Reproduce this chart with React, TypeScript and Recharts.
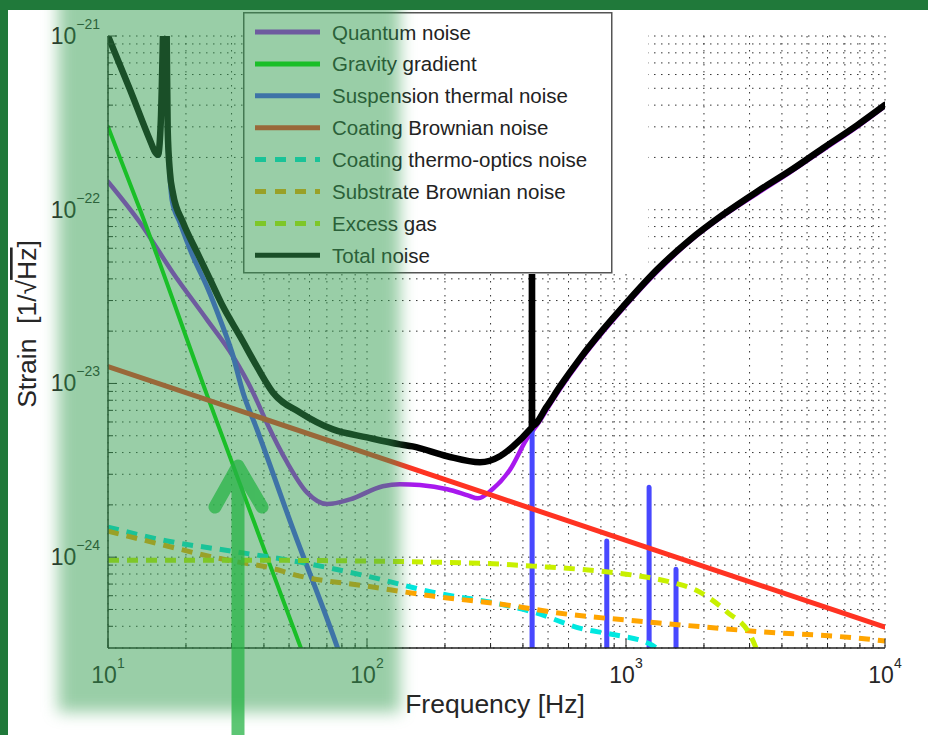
import React from 'react'
import { LineChart, Line, XAxis, YAxis, CartesianGrid, Legend, Label } from 'recharts'

type Pt = { f: number; s: number }
const toPts = (rows: [number, number][]): Pt[] => rows.map(([f, s]) => ({ f, s }))

// values: [frequency Hz, strain 1/rtHz]
const quantumNoise = toPts([
  [10, 1.45e-22], [13.3, 8.42e-23], [17.8, 4.34e-23], [24.1, 2.33e-23], [30.4, 1.43e-23],
  [36.3, 8.88e-24], [41.1, 5.9e-24], [49.1, 3.52e-24], [58.6, 2.36e-24], [70.2, 2.02e-24],
  [86, 2.15e-24], [115, 2.56e-24], [134, 2.63e-24], [160, 2.6e-24], [204, 2.46e-24],
  [245, 2.27e-24], [268, 2.18e-24], [305, 2.46e-24], [357, 3.2e-24], [413, 4.77e-24],
  [465, 6.1e-24], [495, 7.1e-24], [556, 9.3e-24], [664, 1.35e-23], [815, 1.98e-23],
  [974, 2.7e-23], [1318, 4.4e-23], [1767, 6.6e-23], [2368, 9.2e-23], [3205, 1.24e-22],
  [4297, 1.64e-22], [5763, 2.21e-22], [7797, 3.0e-22], [10000, 3.95e-22],
])

const gravityGradient = toPts([
  [10, 3.0e-22], [13.3, 1.0e-22], [24.1, 8.6e-24], [55.1, 3.1e-25], [60, 2.2e-25],
])

const suspensionThermal = toPts([
  [10, 1e-21], [12.2, 4.86e-22], [14.5, 2.53e-22], [15.2, 2.13e-22], [15.6, 2.05e-22],
  [16.0, 3.2e-22], [16.3, 1e-21], [16.55, 3e-21], [16.85, 1e-21], [17.0, 2.8e-22],
  [17.35, 1.55e-22], [17.66, 1.14e-22], [18.96, 8.42e-23], [21.3, 5.37e-23], [24.1, 3.61e-23],
  [27.1, 2.33e-23], [30.1, 1.51e-23], [33.2, 8.88e-24], [37.6, 5.44e-24], [51.8, 1.45e-24],
  [76.5, 3.08e-25], [90, 1.5e-25],
  [433.6, 1e-26], [434, 5.44e-24], [434.4, 1e-26],
  [842, 1e-26], [843, 1.24e-24], [844, 1e-26],
  [1227, 1e-26], [1228, 2.53e-24], [1229, 1e-26],
  [1559, 1e-26], [1560, 8.53e-25], [1561, 1e-26], [10000, 1e-26],
])

const coatingBrownian = toPts([
  [10, 1.25e-23], [100, 3.96e-24], [1000, 1.25e-24], [10000, 3.96e-25],
])

const coatingThermoOptic = toPts([
  [10, 1.49e-24], [16.9, 1.24e-24], [30.4, 1.08e-24], [55.1, 9.36e-25], [100, 7.78e-25],
  [179, 6.29e-25], [326, 5.37e-25], [438, 4.83e-25], [683, 3.86e-25], [869, 3.61e-25],
  [1237, 3.16e-25], [1350, 2.9e-25],
])

const substrateBrownian = toPts([
  [10, 1.41e-24], [16.9, 1.16e-24], [22.7, 1.04e-24], [30.4, 9.49e-25], [41.1, 8.77e-25],
  [55.1, 7.78e-25], [100, 6.81e-25], [179, 5.97e-25], [326, 5.37e-25], [592, 4.7e-25],
  [1237, 4.23e-25], [3030, 3.76e-25], [8500, 3.38e-25], [10000, 3.29e-25],
])

const excessGas = toPts([
  [10, 9.61e-25], [30.4, 9.61e-25], [100, 9.49e-25], [179, 9.36e-25], [326, 9.12e-25],
  [438, 8.88e-25], [795, 8.31e-25], [1068, 7.88e-25], [1435, 7.28e-25], [1928, 6.29e-25],
  [2458, 4.83e-25], [3030, 3.52e-25], [3300, 2.6e-25],
])

const totalNoise = toPts([
  [10, 1e-21], [12.2, 4.86e-22], [14.5, 2.53e-22], [15.2, 2.15e-22], [15.6, 2.07e-22],
  [16.0, 3.3e-22], [16.3, 1e-21], [16.55, 3e-21], [16.85, 1e-21], [17.0, 2.9e-22],
  [17.35, 1.63e-22], [17.8, 1.25e-22], [19.5, 8.42e-23], [22.1, 5.66e-23], [24.8, 3.96e-23],
  [27.8, 2.77e-23], [32.4, 1.86e-23], [37.6, 1.25e-23], [43.3, 8.88e-24], [55.1, 6.81e-24],
  [73.9, 5.44e-24], [100, 4.89e-24], [134, 4.46e-24], [150, 4.34e-24], [204, 3.81e-24],
  [273, 3.52e-24], [326, 3.81e-24], [366, 4.34e-24], [426, 5.44e-24], [433, 5.6e-24],
  [433.5, 3e-21], [434, 5.7e-24], [495, 7.38e-24], [556, 9.61e-24], [664, 1.39e-23],
  [815, 2.04e-23], [974, 2.77e-23], [1318, 4.52e-23], [1767, 6.72e-23], [2368, 9.36e-23],
  [3205, 1.27e-22], [4297, 1.675e-22], [5763, 2.26e-22], [7797, 3.06e-22], [10000, 4.01e-22],
])

const seriesNames = [
  'Quantum noise', 'Gravity gradient', 'Suspension thermal noise', 'Coating Brownian noise',
  'Coating thermo-optics noise', 'Substrate Brownian noise', 'Excess gas', 'Total noise',
]
const seriesData = [
  quantumNoise, gravityGradient, suspensionThermal, coatingBrownian,
  coatingThermoOptic, substrateBrownian, excessGas, totalNoise,
]
const seriesColors = ['#a818ee', '#00e000', '#4848ff', '#ff3322', '#00e8e0', '#ffa500', '#c8f000', '#000000']
const seriesDashed = [false, false, false, false, true, true, true, false]
const seriesWidths = [4.5, 4, 5, 5, 5, 5, 5, 6.5]

const xMajor = [10, 100, 1000, 10000]
const xExp = ['1', '2', '3', '4']
const xMinor = [20, 30, 40, 50, 60, 70, 80, 90, 200, 300, 400, 500, 600, 700, 800, 900,
  2000, 3000, 4000, 5000, 6000, 7000, 8000, 9000]
const yMajor = [1e-24, 1e-23, 1e-22, 1e-21]
const yExp = ['\u221224', '\u221223', '\u221222', '\u221221']
const yMinor = [4e-25, 5e-25, 6e-25, 7e-25, 8e-25, 9e-25,
  2e-24, 3e-24, 4e-24, 5e-24, 6e-24, 7e-24, 8e-24, 9e-24,
  2e-23, 3e-23, 4e-23, 5e-23, 6e-23, 7e-23, 8e-23, 9e-23,
  2e-22, 3e-22, 4e-22, 5e-22, 6e-22, 7e-22, 8e-22, 9e-22]

const FONT = '"Liberation Sans", Arial, Helvetica, sans-serif'
const INK = '#262626'

const XTick = ({ x, y, payload, top }: any) => {
  const i = xMajor.indexOf(payload.value)
  const len = i >= 0 ? 9 : 5
  const dir = top ? 1 : -1
  return (
    <g>
      <line x1={x} x2={x} y1={y} y2={y + dir * len} stroke="#222" strokeWidth={1} />
      {!top && i >= 0 && (
        <text x={x} y={y + 35} textAnchor="middle" fontSize={23} fill={INK} fontFamily={FONT}>
          10<tspan dy={-15} fontSize={14}>{xExp[i]}</tspan>
        </text>
      )}
    </g>
  )
}

const YTick = ({ x, y, payload, right }: any) => {
  const i = yMajor.indexOf(payload.value)
  const len = i >= 0 ? 9 : 5
  const dir = right ? -1 : 1
  return (
    <g>
      <line x1={x} x2={x + dir * len} y1={y} y2={y} stroke="#222" strokeWidth={1} />
      {!right && i >= 0 && (
        <text x={x - 8} y={y + 8} textAnchor="end" fontSize={23} fill={INK} fontFamily={FONT}>
          10<tspan dy={-15} fontSize={14}>{yExp[i]}</tspan>
        </text>
      )}
    </g>
  )
}

const LegendBox = () => (
  <div style={{ width: 405, height: 262, background: '#fff' }}>
    <svg width={405} height={262} style={{ display: 'block' }}>
      <rect x={0.75} y={0.75} width={368} height={260} fill="#fff" stroke="#555" strokeWidth={1.5} />
      {seriesNames.map((name, i) => {
        const cy = 20 + i * 31.9
        return (
          <g key={name}>
            <line x1={12} x2={77} y1={cy} y2={cy} stroke={seriesColors[i]} strokeWidth={5}
              strokeDasharray={seriesDashed[i] ? '11 9' : undefined} />
            <text x={89} y={cy} dominantBaseline="central" fontSize={20.5} fill="#222" fontFamily={FONT}>
              {name}
            </text>
          </g>
        )
      })}
    </svg>
  </div>
)

export default function App() {
  return (
    <div style={{ position: 'absolute', left: 0, top: 0, width: 928, height: 735, background: '#fff',
      overflow: 'hidden', fontFamily: FONT }}>
      <LineChart width={928} height={735} margin={{ top: 36, right: 43, bottom: 0, left: 0 }}>
        <CartesianGrid stroke="#333" strokeWidth={1} strokeDasharray="1.5 5.5" />
        <XAxis dataKey="f" type="number" scale="log" domain={[10, 10000]} allowDataOverflow
          ticks={[...xMajor, ...xMinor]} interval={0} height={87} tickSize={0} tickMargin={0}
          tickLine={false} axisLine={{ stroke: '#222', strokeWidth: 1.5 }}
          tick={(p: any) => <XTick {...p} />}>
          <Label content={() => (
            <text x={495} y={713} textAnchor="middle" fontSize={26.5} fill={INK} fontFamily={FONT}>
              Frequency [Hz]
            </text>
          )} />
        </XAxis>
        <XAxis xAxisId="top" orientation="top" type="number" scale="log" domain={[10, 10000]} allowDataOverflow
          ticks={[...xMajor, ...xMinor]} interval={0} height={0} tickSize={0} tickMargin={0}
          tickLine={false} axisLine={{ stroke: '#222', strokeWidth: 1.5 }}
          tick={(p: any) => <XTick {...p} top />} />
        <YAxis type="number" scale="log" domain={[3e-25, 1e-21]} allowDataOverflow
          ticks={[...yMajor, ...yMinor]} interval={0} width={108} tickSize={0} tickMargin={0}
          tickLine={false} axisLine={{ stroke: '#222', strokeWidth: 1.5 }}
          tick={(p: any) => <YTick {...p} />}>
          <Label content={() => (
            <text x={36} y={324} transform="rotate(-90 36 324)" textAnchor="middle" fontSize={26.5}
              fill={INK} fontFamily={FONT}>
              {'Strain\u00a0\u00a0[1/\u221a'}<tspan style={{ textDecoration: 'overline' }}>Hz</tspan>]
            </text>
          )} />
        </YAxis>
        <YAxis yAxisId="right" orientation="right" type="number" scale="log" domain={[3e-25, 1e-21]}
          allowDataOverflow ticks={[...yMajor, ...yMinor]} interval={0} width={0} tickSize={0}
          tickMargin={0} tickLine={false} axisLine={{ stroke: '#222', strokeWidth: 1.5 }}
          tick={(p: any) => <YTick {...p} right />} />
        {seriesData.map((d, i) => (
          <Line key={seriesNames[i]} data={d} dataKey="s" name={seriesNames[i]} type="monotoneX"
            stroke={seriesColors[i]} strokeWidth={seriesWidths[i]}
            strokeDasharray={seriesDashed[i] ? '11 8' : undefined}
            strokeLinejoin="round" strokeLinecap={seriesDashed[i] ? 'butt' : 'round'}
            dot={false} activeDot={false} isAnimationActive={false} />
        ))}
        <Legend layout="vertical" verticalAlign="middle" align="center"
          wrapperStyle={{ left: 243, top: 12, width: 405, height: 262 }}
          content={() => <LegendBox />} />
      </LineChart>

      {/* green highlight over the low-frequency band */}
      <div style={{ position: 'absolute', left: 58, top: -20, width: 342, height: 732,
        background: 'rgba(51,158,79,0.5)', filter: 'blur(8px)', pointerEvents: 'none' }} />

      <svg width={928} height={735} style={{ position: 'absolute', left: 0, top: 0, pointerEvents: 'none' }}>
        <g opacity={0.75} stroke="rgb(40,180,70)" strokeWidth={13} strokeLinecap="round"
          strokeLinejoin="round" fill="none">
          <path d="M238 760 L238 468" />
          <path d="M215 507 L238 466 L262 507" />
        </g>
      </svg>

      <div style={{ position: 'absolute', left: 0, top: 0, width: 928, height: 10, background: '#20793a' }} />
      <div style={{ position: 'absolute', left: 0, top: 0, width: 8, height: 735, background: '#20793a' }} />
    </div>
  )
}
